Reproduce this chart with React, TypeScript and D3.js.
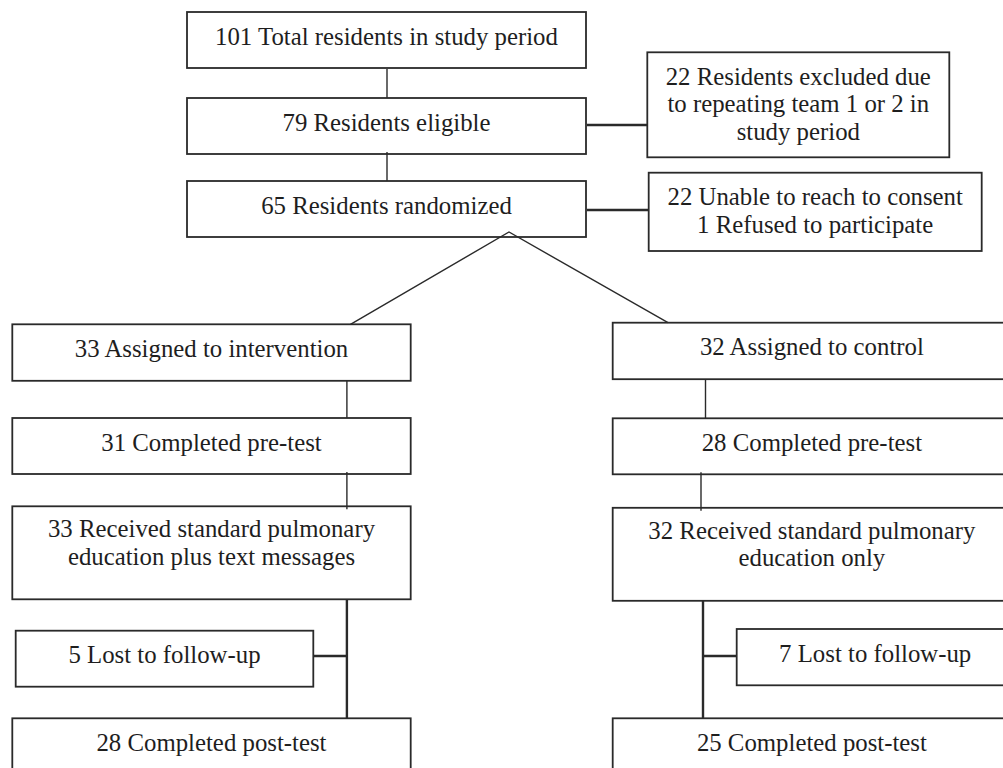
import React from "react";
import * as d3 from "d3";

// Flow of residents through the study
const mainSteps = [
  "101 Total residents in study period",
  "79 Residents eligible",
  "65 Residents randomized",
];

const exclusionNotes = [
  ["22 Residents excluded due", "to repeating team 1 or 2 in", "study period"],
  ["22 Unable to reach to consent", "1 Refused to participate"],
];

const interventionArm = [
  ["33 Assigned to intervention"],
  ["31 Completed pre-test"],
  ["33 Received standard pulmonary", "education plus text messages"],
  ["28 Completed post-test"],
];

const controlArm = [
  ["32 Assigned to control"],
  ["28 Completed pre-test"],
  ["32 Received standard pulmonary", "education only"],
  ["25 Completed post-test"],
];

const lostToFollowUp = ["5 Lost to follow-up", "7 Lost to follow-up"];

interface Box {
  x: number;
  y: number;
  w: number;
  h: number;
  lines: string[];
  first?: number;
}

const WIDTH = 1003;
const HEIGHT = 768;
const FONT = 24.8;
const LINE_H = 27.5;
const INK = "#2a2a2a";

// layout of the diagram (pixels)
const mainX = 187;
const mainW = 399;
const mainY = [12, 98, 181];
const boxH = 56;

const exclBoxes = [
  { x: 647.3, y: 52.3, w: 302, h: 105 },
  { x: 648.7, y: 172.7, w: 333, h: 78.3 },
];

const armX = [12.3, 612.7];
const armW = 398.4;
const armRows = [
  { y: [324.3, 322.7], h: 56.5 },
  { y: [418, 418.3], h: 56 },
  { y: [506.3, 507.8], h: 93 },
  { y: [718.3, 718.3], h: 56 },
];
const lostBoxes = [
  { x: 15.7, y: 630.7, w: 297.6, h: 56 },
  { x: 736.7, y: 629, w: 277, h: 56.3 },
];
const stemX = [346.9, 703];
const preStemX = [346.9, 705.5];
const apex = { x: 509, y: 232 };

const App: React.FC = () => {
  const boxes: Box[] = [];
  mainSteps.forEach((t, i) =>
    boxes.push({ x: mainX, y: mainY[i], w: mainW, h: boxH, lines: [t] })
  );
  exclusionNotes.forEach((lines, i) => boxes.push({ ...exclBoxes[i], lines }));
  [interventionArm, controlArm].forEach((arm, a) =>
    arm.forEach((lines, r) =>
      boxes.push({
        x: armX[a],
        y: armRows[r].y[a],
        w: armW,
        h: armRows[r].h,
        lines,
        first: r === 2 ? 30.8 : undefined,
      })
    )
  );
  lostToFollowUp.forEach((t, i) => boxes.push({ ...lostBoxes[i], lines: [t] }));

  const mainCx = mainX + mainW / 2;
  const line = d3.line<[number, number]>();

  // thin vertical / diagonal links
  const thin: [number, number][][] = [
    [[mainCx + 0.5, mainY[0] + boxH + 1], [mainCx + 0.5, mainY[1]]],
    [[mainCx + 0.5, mainY[1] + boxH - 2], [mainCx + 0.5, mainY[2]]],
    [[350.5, armRows[0].y[0]], [apex.x, apex.y], [668, armRows[0].y[1]]],
    [[stemX[0], armRows[0].y[0] + armRows[0].h], [stemX[0], armRows[1].y[0]]],
    [[preStemX[1], armRows[0].y[1] + armRows[0].h], [preStemX[1], armRows[1].y[1]]],
    [[stemX[0], armRows[1].y[0] + armRows[1].h - 2], [stemX[0], armRows[2].y[0] + 3]],
    [[701, armRows[1].y[1] + armRows[1].h - 2], [701, armRows[2].y[1] + 3]],
  ];

  // heavier links to the side boxes and the follow-up stems
  const thick: [number, number][][] = [
    [[mainX + mainW + 1, 125], [exclBoxes[0].x, 125]],
    [[mainX + mainW + 1, 210], [exclBoxes[1].x, 210]],
    [[stemX[0], armRows[2].y[0] + armRows[2].h], [stemX[0], armRows[3].y[0]]],
    [[stemX[1], armRows[2].y[1] + armRows[2].h], [stemX[1], armRows[3].y[1]]],
    [[lostBoxes[0].x + lostBoxes[0].w, 656], [stemX[0], 656]],
    [[stemX[1], 656], [lostBoxes[1].x, 656]],
  ];

  return (
    <svg
      width={WIDTH}
      height={HEIGHT}
      viewBox={`0 0 ${WIDTH} ${HEIGHT}`}
      style={{ position: "absolute", left: 0, top: 0, background: "#fff" }}
    >
      <rect width={WIDTH} height={HEIGHT} fill="#fff" />
      {thin.map((pts, i) => (
        <path key={`t${i}`} d={line(pts) ?? ""} fill="none" stroke={INK} strokeWidth={1.4} />
      ))}
      {thick.map((pts, i) => (
        <path key={`k${i}`} d={line(pts) ?? ""} fill="none" stroke={INK} strokeWidth={2.4} />
      ))}
      {boxes.map((b, i) => (
        <g key={`b${i}`}>
          <rect x={b.x} y={b.y} width={b.w} height={b.h} fill="none" stroke={INK} strokeWidth={1.8} />
          {b.lines.map((t, j) => (
            <text
              key={j}
              x={b.x + b.w / 2}
              y={b.y + (b.first ?? 32.6) + j * LINE_H}
              textAnchor="middle"
              fontFamily="'Liberation Serif', 'Times New Roman', serif"
              fontSize={FONT}
              fill="#1e1e1e"
            >
              {t}
            </text>
          ))}
        </g>
      ))}
    </svg>
  );
};

export default App;
